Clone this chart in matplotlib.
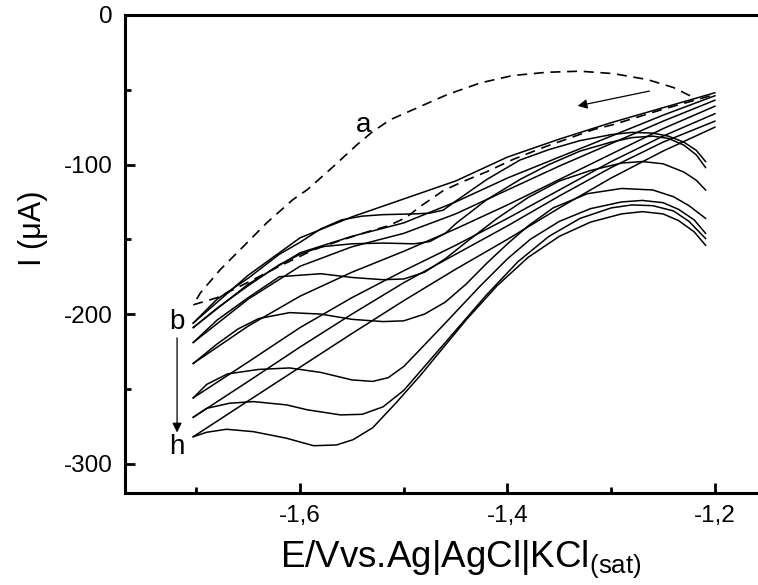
import matplotlib
matplotlib.use("Agg")
import matplotlib.pyplot as plt
from matplotlib.ticker import MultipleLocator, FuncFormatter

plt.rcParams["font.family"] = ["Liberation Sans", "DejaVu Sans"]
plt.rcParams["mathtext.fontset"] = "custom"
plt.rcParams["mathtext.rm"] = "Liberation Sans"
plt.rcParams["mathtext.it"] = "Liberation Sans"

# curve a (dashed), upper arc and lower return
a_arc_E = [-1.224, -1.240, -1.265, -1.298, -1.330, -1.362, -1.395, -1.426, -1.458, -1.491,
           -1.513, -1.530, -1.545, -1.568, -1.593, -1.607, -1.632, -1.655, -1.677, -1.696, -1.703]
a_arc_I = [-54, -48.5, -43.2, -39.2, -37.6, -38.3, -40.5, -45.4, -53.2, -63.3,
           -70, -78, -86.7, -101.4, -116.8, -123.5, -138.9, -155, -170.3, -185.7, -193.8]
a_ret_E = [-1.703, -1.680, -1.655, -1.619, -1.587, -1.559, -1.535, -1.515, -1.498, -1.483, -1.462,
           -1.443, -1.420, -1.395, -1.366, -1.317, -1.298, -1.250, -1.200]
a_ret_I = [-193.8, -189, -180.4, -167.7, -157, -150.3, -145, -141, -135.5, -127.5, -117.5,
           -111.4, -104.8, -96.7, -88.7, -76.6, -73.3, -63, -53.2]

# curves b..h: near-linear branch on a common potential grid
lin_E = [-1.703, -1.65, -1.60, -1.55, -1.50, -1.45, -1.40, -1.35, -1.30, -1.25, -1.20]
lin_b = [-206, -174, -149, -135, -123, -111, -95, -83, -72, -62, -52]
lin_c = [-209, -180, -159, -148, -139, -125, -109, -95, -81, -67, -54]
lin_d = [-219, -190, -168, -155, -146, -133, -117, -101, -86, -71, -57]
lin_e = [-233, -208, -188, -172, -158, -143, -127, -110, -93, -76, -61]
lin_f = [-256, -232, -209, -189, -171, -154, -136, -117, -98, -81, -66]
lin_g = [-269, -245, -222, -200, -179, -160, -141, -121, -102, -85, -71]
lin_h = [-282, -258, -235.5, -213, -191, -170, -150, -129, -109, -91, -75]

# curves b..h: wavy branch
wav_b_E = [-1.703, -1.68, -1.65, -1.62, -1.60, -1.58, -1.56, -1.54, -1.52, -1.49, -1.475,
           -1.462, -1.449, -1.42, -1.388, -1.36, -1.33, -1.30, -1.28, -1.26, -1.245,
           -1.23, -1.218, -1.209]
wav_b_I = [-206, -190, -176, -160, -152, -143, -137, -134.5, -133.5, -133, -132.5,
           -130.5, -124, -110, -97, -90, -84, -80, -78.5, -79, -81,
           -85, -90.5, -98]
wav_c_E = [-1.703, -1.68, -1.65, -1.62, -1.60, -1.58, -1.55, -1.52, -1.49, -1.475, -1.46,
           -1.449, -1.42, -1.388, -1.36, -1.33, -1.30, -1.28, -1.26, -1.245, -1.23, -1.218, -1.209]
wav_c_I = [-209, -196, -181, -167, -160, -155, -153, -152.5, -153, -151.5, -146,
           -139, -123.5, -110, -100, -91, -85, -82, -81, -82.5, -87, -93.5, -102]
wav_d_E = [-1.703, -1.68, -1.65, -1.62, -1.58, -1.55, -1.52, -1.50, -1.48, -1.46, -1.44,
           -1.41, -1.38, -1.35, -1.32, -1.29, -1.27, -1.25, -1.23, -1.218, -1.209]
wav_d_I = [-219, -204, -189, -175, -173, -175.5, -177, -176.5, -172, -163, -152,
           -136, -122, -111, -104, -99, -98, -99.5, -105, -110.5, -117]
wav_e_E = [-1.703, -1.68, -1.66, -1.64, -1.61, -1.58, -1.55, -1.52, -1.50, -1.48, -1.46,
           -1.44, -1.42, -1.40, -1.38, -1.356, -1.323, -1.29, -1.26, -1.24, -1.225, -1.209]
wav_e_I = [-233, -220, -210, -203, -199, -200, -203.5, -205, -204.5, -200, -192,
           -180, -166, -153, -141, -129, -119.5, -116, -117, -121.5, -127.5, -136]
wav_f_E = [-1.703, -1.69, -1.67, -1.64, -1.61, -1.58, -1.55, -1.53, -1.515, -1.50, -1.4875,
           -1.46, -1.426, -1.40, -1.378, -1.35, -1.32, -1.29, -1.27, -1.25, -1.235, -1.22, -1.209]
wav_f_I = [-256, -247, -240, -237, -236, -239, -244, -245, -242.5, -235, -226,
           -206, -181, -163, -150, -138, -129.5, -125, -124, -125.5, -130, -137, -146]
wav_g_E = [-1.703, -1.69, -1.668, -1.645, -1.613, -1.593, -1.561, -1.54, -1.52, -1.50, -1.475,
           -1.45, -1.42, -1.39, -1.36, -1.33, -1.30, -1.28, -1.26, -1.24, -1.225, -1.209]
wav_g_I = [-269, -263, -259.6, -258.5, -260.7, -264, -267.4, -267, -262, -251, -231,
           -211, -187, -165, -148, -136, -129, -127, -127.5, -131, -138, -149.5]
wav_h_E = [-1.703, -1.69, -1.671, -1.645, -1.613, -1.587, -1.565, -1.549, -1.53, -1.507, -1.484,
           -1.465, -1.44, -1.41, -1.38, -1.35, -1.32, -1.29, -1.27, -1.25, -1.235, -1.22, -1.209]
wav_h_I = [-282, -279, -277, -278.6, -283, -288, -287.5, -284, -276, -259, -241,
           -225, -204, -181, -162, -148, -138.5, -133, -131.5, -133, -137.5, -145, -154]

linear = [lin_b, lin_c, lin_d, lin_e, lin_f, lin_g, lin_h]
wavy = [(wav_b_E, wav_b_I), (wav_c_E, wav_c_I), (wav_d_E, wav_d_I), (wav_e_E, wav_e_I),
        (wav_f_E, wav_f_I), (wav_g_E, wav_g_I), (wav_h_E, wav_h_I)]

fig = plt.figure(figsize=(7.58, 5.85), dpi=100)
ax = fig.add_axes([0.1649, 0.1573, 0.8865, 0.8171])

lw = 1.1
ax.plot(a_arc_E, a_arc_I, color="k", lw=1.2, dashes=(6, 4))
ax.plot(a_ret_E, a_ret_I, color="k", lw=1.2, dashes=(6, 4))
for I in linear:
    ax.plot(lin_E, I, color="k", lw=lw, solid_joinstyle="round")
for E, I in wavy:
    ax.plot(E, I, color="k", lw=lw, solid_joinstyle="round")

# scan direction arrow and labels
ax.annotate("", xy=(-1.335, -61.2), xytext=(-1.2605, -50.5),
            arrowprops=dict(arrowstyle="-|>", color="k", lw=0.9, mutation_scale=14))
ax.annotate("", xy=(-1.7186, -281), xytext=(-1.7186, -214),
            arrowprops=dict(arrowstyle="-|>", color="k", lw=0.9, mutation_scale=14))
ax.text(-1.539, -73.3, "a", fontsize=20, ha="center", va="center")
ax.text(-1.7186, -205, "b", fontsize=20, ha="center", va="center")
ax.text(-1.7186, -288.6, "h", fontsize=20, ha="center", va="center")

ax.set_xlim(-1.7688, -1.1209)
ax.set_ylim(-319.6, 0)
ax.xaxis.set_major_locator(MultipleLocator(0.2))
ax.xaxis.set_minor_locator(MultipleLocator(0.1))
ax.yaxis.set_major_locator(MultipleLocator(100))
ax.yaxis.set_minor_locator(MultipleLocator(50))
ax.xaxis.set_major_formatter(FuncFormatter(lambda v, p: ("%.1f" % v).replace(".", ",")))
ax.yaxis.set_major_formatter(FuncFormatter(lambda v, p: "%d" % round(v)))
ax.tick_params(which="both", direction="in", width=2, labelsize=17.5, pad=9)
ax.tick_params(which="major", length=7)
ax.tick_params(which="minor", length=4)
for s in ax.spines.values():
    s.set_linewidth(2.2)

ax.set_xlabel(r"E/Vvs.Ag|AgCl|KCl$_{\mathrm{(sat)}}$", fontsize=26.5, labelpad=8)
ax.set_ylabel("I (\u03bcA)", fontsize=22)
ax.yaxis.set_label_coords(-0.115, 0.554)

fig.savefig("out.png", dpi=100)
